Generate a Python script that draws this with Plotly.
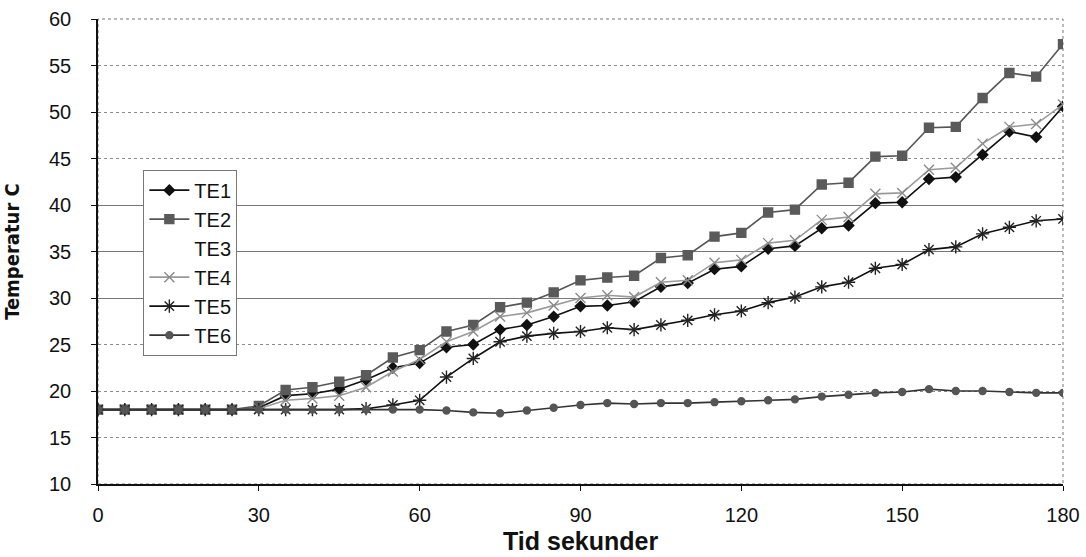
import plotly.graph_objects as go

t = list(range(0, 181, 5))

te1 = [18, 18, 18, 18, 18, 18, 18.2, 19.5, 19.7, 20.2, 21.2, 22.5, 23.0, 24.7, 25.0, 26.6, 27.1,
       28.0, 29.1, 29.2, 29.6, 31.2, 31.6, 33.1, 33.4, 35.3, 35.6, 37.5, 37.8, 40.2, 40.3,
       42.8, 43.0, 45.4, 47.9, 47.3, 50.6]
te2 = [18, 18, 18, 18, 18, 18, 18.4, 20.1, 20.4, 21.0, 21.7, 23.6, 24.4, 26.4, 27.1, 29.0, 29.5,
       30.6, 31.9, 32.2, 32.4, 34.3, 34.6, 36.6, 37.0, 39.2, 39.5, 42.2, 42.4, 45.2, 45.3,
       48.3, 48.4, 51.5, 54.2, 53.8, 57.3]
te3 = [None] * 37
te4 = [18, 18, 18, 18, 18, 18, 18.1, 19.0, 19.2, 19.5, 20.4, 22.1, 23.4, 25.3, 26.4, 28.0, 28.4,
       29.2, 30.0, 30.3, 30.1, 31.7, 31.9, 33.8, 34.1, 35.9, 36.2, 38.4, 38.7, 41.2, 41.3,
       43.8, 44.0, 46.6, 48.4, 48.7, 50.8]
te5 = [18, 18, 18, 18, 18, 18, 18, 18, 18, 18, 18.1, 18.5, 19.0, 21.5, 23.5, 25.3, 25.9,
       26.2, 26.4, 26.8, 26.6, 27.1, 27.6, 28.2, 28.6, 29.5, 30.1, 31.2, 31.7, 33.2, 33.6,
       35.2, 35.5, 36.9, 37.6, 38.3, 38.5]
te6 = [18, 18, 18, 18, 18, 18, 18, 18, 18, 18, 18, 18, 18, 17.9, 17.7, 17.6, 17.9,
       18.2, 18.5, 18.7, 18.6, 18.7, 18.7, 18.8, 18.9, 19.0, 19.1, 19.4, 19.6, 19.8, 19.9,
       20.2, 20.0, 20.0, 19.9, 19.8, 19.8]

x_ticks = [0, 30, 60, 90, 120, 150, 180]
y_ticks = [10, 15, 20, 25, 30, 35, 40, 45, 50, 55, 60]

names = ["TE1", "TE2", "TE3", "TE4", "TE5", "TE6"]
series = [te1, te2, te3, te4, te5, te6]
line_colors = ["#111111", "#555555", "rgba(0,0,0,0)", "#9a9a9a", "#111111", "#333333"]
marker_colors = ["#111111", "#5a5a5a", "rgba(0,0,0,0)", "#8a8a8a", "#222222", "#555555"]
symbols = ["diamond", "square", "circle", "x-thin-open", "asterisk-open", "circle"]
sizes = [8, 9, 1, 10, 11, 7]

fig = go.Figure()
for n, y, lc, mc, s, sz in zip(names, series, line_colors, marker_colors, symbols, sizes):
    fig.add_trace(go.Scatter(
        x=t, y=y, name=n, mode="lines+markers",
        line=dict(color=lc, width=1.6),
        marker=dict(symbol=s, size=sz, color=mc,
                    line=dict(color=mc, width=1.4)),
    ))

# overlay axis providing solid grid lines for the middle values
fig.add_trace(go.Scatter(x=[None], y=[None], yaxis="y2", showlegend=False, hoverinfo="skip"))

font_family = "Liberation Sans, Arial, sans-serif"
fig.update_layout(
    width=1086, height=557,
    margin=dict(l=98, r=23, t=19, b=73),
    paper_bgcolor="white", plot_bgcolor="white",
    font=dict(family=font_family, size=20, color="#111111"),
    showlegend=True,
    legend=dict(x=0.047, y=0.676, xanchor="left", yanchor="top",
                bgcolor="white", bordercolor="#777777", borderwidth=1,
                font=dict(size=20, color="#111111"),
                tracegroupgap=0, itemwidth=40),
    xaxis=dict(range=[0, 180], tickvals=x_ticks, automargin=False,
               showgrid=False, zeroline=False,
               showline=True, linecolor="#111111", linewidth=1.5,
               ticks="outside", ticklen=5, tickcolor="#111111",
               tickfont=dict(size=20), ticklabelstandoff=7),
    yaxis=dict(range=[10, 60], tickvals=y_ticks, automargin=False,
               showgrid=True, gridcolor="#8c8c8c", gridwidth=1, griddash="dot",
               zeroline=False,
               showline=True, linecolor="#111111", linewidth=1.5,
               ticks="outside", ticklen=5, tickcolor="#111111",
               tickfont=dict(size=20), ticklabelstandoff=16,
               title=dict(text="<b>Temperatur C</b>",
                          font=dict(size=20, family="Liberation Sans Narrow, DejaVu Sans Condensed, sans-serif"),
                          standoff=28)),
    yaxis2=dict(range=[10, 60], overlaying="y", tickvals=[30, 35, 40], automargin=False,
                showticklabels=False, showgrid=True, gridcolor="#777777", gridwidth=1,
                zeroline=False, showline=False, ticks=""),
    annotations=[dict(text="<b>Tid sekunder</b>", xref="paper", yref="paper",
                      x=0.5, y=0, yshift=-57, xanchor="center", yanchor="middle",
                      showarrow=False, font=dict(size=25, color="#111111"))],
)

fig.add_shape(type="rect", xref="paper", yref="paper", x0=0, y0=0, x1=1, y1=1,
              line=dict(color="#777777", width=1, dash="dot"), layer="below")

fig.write_html("out.html", config={"displayModeBar": False},
               post_script="document.body.style.margin='0';")
